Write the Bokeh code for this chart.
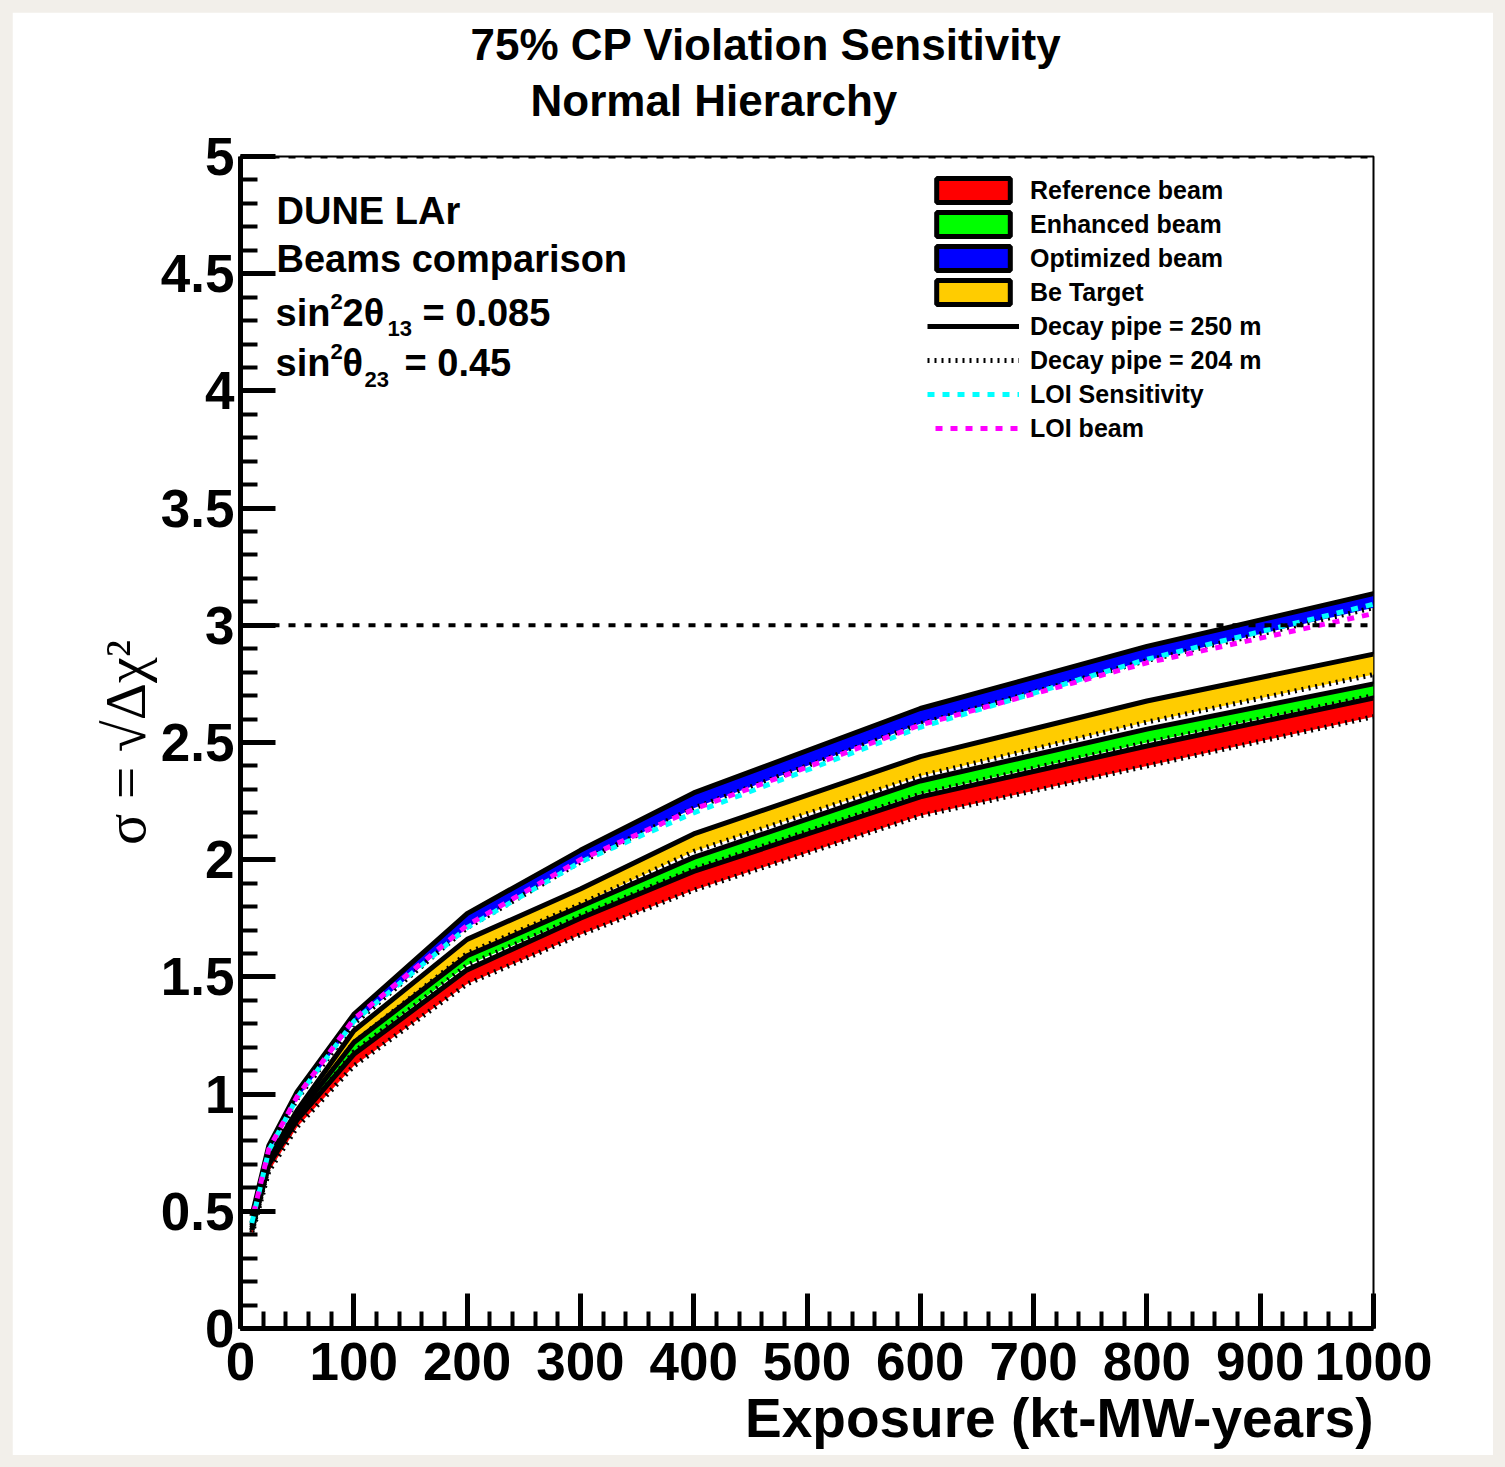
import numpy as np
from bokeh.plotting import figure
from bokeh.layouts import column
from bokeh.models import (Range1d, Label, Legend, LegendItem, ColumnDataSource,
                          CustomJSTickFormatter, FixedTicker, Span, Title)
from bokeh.embed import file_html
from bokeh.resources import INLINE

# ---------------- data ----------------
exposure = [10, 25, 50, 100, 200, 300, 400, 600, 800, 1000]

opt_250 = [0.48, 0.78, 1.01, 1.34, 1.77, 2.04, 2.285, 2.645, 2.91, 3.135]
opt_204 = [0.45, 0.75, 0.98, 1.30, 1.71, 1.99, 2.22, 2.58, 2.85, 3.075]
be_250 = [0.44, 0.73, 0.93, 1.27, 1.66, 1.875, 2.11, 2.44, 2.677, 2.877]
be_204 = [0.42, 0.70, 0.90, 1.22, 1.60, 1.81, 2.035, 2.357, 2.587, 2.79]
enh_250 = [0.43, 0.71, 0.91, 1.22, 1.59, 1.80, 2.01, 2.336, 2.557, 2.75]
enh_204 = [0.41, 0.69, 0.88, 1.18, 1.55, 1.76, 1.96, 2.28, 2.50, 2.70]
ref_250 = [0.42, 0.70, 0.89, 1.17, 1.53, 1.75, 1.95, 2.268, 2.485, 2.69]
ref_204 = [0.40, 0.67, 0.86, 1.12, 1.47, 1.68, 1.87, 2.187, 2.40, 2.61]
loi_sensitivity = [0.45, 0.76, 0.985, 1.31, 1.71, 1.99, 2.20, 2.565, 2.855, 3.09]
loi_beam = [0.46, 0.765, 0.99, 1.32, 1.72, 2.00, 2.215, 2.575, 2.84, 3.05]

beam_names = ["Reference beam", "Enhanced beam", "Optimized beam", "Be Target"]
beam_colors = ["#ff0000", "#00ff00", "#0000ff", "#ffcc00"]
threshold_levels = [3, 5]

x_ticks = [0, 100, 200, 300, 400, 500, 600, 700, 800, 900, 1000]
x_minor = list(range(0, 1001, 20))
y_ticks = [0, 0.5, 1, 1.5, 2, 2.5, 3, 3.5, 4, 4.5, 5]
y_minor = [round(0.1 * i, 1) for i in range(0, 51)]

# ---------------- layout helpers (page pixels) ----------------
W, H = 1505, 1467
M = 12                      # beige page margin
FL, FR, FT, FB = 240, 1373, 155, 1328
XMAX, YMAX = 1000.0, 5.0


def dx(px):
    return (px - FL) / (FR - FL) * XMAX


def dy(py):
    return (FB - py) / (FB - FT) * YMAX


FONT = "Liberation Sans"
PW, PH = W - 2 * M, H - 2 * M

p = figure(width=PW, height=PH, x_range=Range1d(0, 1000), y_range=Range1d(0, 5),
           output_backend="svg", toolbar_location=None,
           min_border_left=FL - M, min_border_right=PW - (FR - M),
           min_border_top=FT - M, min_border_bottom=PH - (FB - M))
p.grid.visible = False
p.background_fill_color = "white"
p.border_fill_color = "white"
p.outline_line_color = "black"
p.outline_line_width = 2

fmt = "return tick.toString();"
for ax in (p.xaxis[0], p.yaxis[0]):
    ax.axis_line_width = 5
    ax.major_tick_line_width = 5
    ax.minor_tick_line_width = 4
    ax.major_tick_in = 35
    ax.major_tick_out = 0
    ax.minor_tick_in = 17
    ax.minor_tick_out = 0
    ax.major_label_text_font = FONT
    ax.major_label_text_font_style = "bold"
    ax.major_label_text_font_size = "53px"
    ax.major_label_text_color = "black"
    ax.formatter = CustomJSTickFormatter(code=fmt)
p.xaxis[0].ticker = FixedTicker(ticks=x_ticks, minor_ticks=x_minor)
p.yaxis[0].ticker = FixedTicker(ticks=y_ticks, minor_ticks=y_minor)
p.xaxis[0].major_label_standoff = 14
p.yaxis[0].major_label_standoff = 6

# threshold lines (3 sigma, 5 sigma)
for lev in threshold_levels:
    p.add_layout(Span(location=lev, dimension="width", line_color="black",
                      line_width=4, line_dash="7 9"))

# ---------------- bands ----------------
band_data = {
    "Reference beam": (ref_204, ref_250),
    "Enhanced beam": (enh_204, enh_250),
    "Optimized beam": (opt_204, opt_250),
    "Be Target": (be_204, be_250),
}
color_of = dict(zip(beam_names, beam_colors))
draw_order = ["Optimized beam", "Be Target", "Enhanced beam", "Reference beam"]
solid_r = None
dotted_r = None
for name in draw_order:
    lo, hi = band_data[name]
    p.varea(x=exposure, y1=lo, y2=hi, fill_color=color_of[name], fill_alpha=1.0)
    r1 = p.line(exposure, hi, line_color="black", line_width=5)
    r2 = p.line(exposure, lo, line_color="black", line_width=5, line_dash="2 5")
    solid_r, dotted_r = r1, r2

r_loi_s = p.line(exposure, loi_sensitivity, line_color="#00ffff", line_width=5,
                 line_dash="7 8")
r_loi_b = p.line(exposure, loi_beam, line_color="#ff00ff", line_width=5,
                 line_dash="7 8", line_dash_offset=7)

# legend proxies for the filled bands (no visible data)
nan = float("nan")
proxies = {}
for name in beam_names:
    src = ColumnDataSource(dict(l=[nan], r=[nan], t=[nan], b=[nan]))
    proxies[name] = p.quad(left="l", right="r", top="t", bottom="b", source=src,
                           fill_color=color_of[name], line_color="black", line_width=5)

items = [LegendItem(label=n, renderers=[proxies[n]]) for n in beam_names]
items += [
    LegendItem(label="Decay pipe = 250 m", renderers=[solid_r]),
    LegendItem(label="Decay pipe = 204 m", renderers=[dotted_r]),
    LegendItem(label="LOI Sensitivity", renderers=[r_loi_s]),
    LegendItem(label="LOI beam", renderers=[r_loi_b]),
]
legend = Legend(items=items, location=(687, 885), padding=0, margin=0, spacing=4,
                glyph_width=92, glyph_height=30, label_standoff=11,
                label_text_font=FONT, label_text_font_style="bold",
                label_text_font_size="25px", label_text_color="black",
                background_fill_alpha=0.0, border_line_alpha=0.0)
p.add_layout(legend)


# ---------------- texts ----------------
def lab(px, py, text, size, bold=True, align="left", font=FONT):
    p.add_layout(Label(x=dx(px), y=dy(py), text=text, text_font=font,
                       text_font_size=f"{size}px",
                       text_font_style="bold" if bold else "normal",
                       text_align=align, text_baseline="alphabetic",
                       text_color="black"))


lab(276, 210, "DUNE LAr", 38)
lab(276, 258, "Beams comparison", 38)
lab(275, 312, "sin", 38)
lab(330, 300, "2", 22)
lab(342, 312, "2θ", 38)
lab(387, 327, "13", 22)
lab(422, 312, "= 0.085", 38)
lab(275, 362, "sin", 38)
lab(330, 350, "2", 22)
lab(342, 362, "θ", 38)
lab(364, 378, "23", 22)
lab(404, 362, "= 0.45", 38)

# titles (stacked above the frame; first added is closest to the frame)
spacer = Title(text=" ", text_font_size="1px", standoff=29)
t2 = Title(text="Normal Hierarchy", align="left", offset=530 - FL,
           text_font=FONT, text_font_style="bold", text_font_size="44px",
           text_color="black", standoff=0)
t1 = Title(text="75% CP Violation Sensitivity", align="left", offset=470 - FL,
           text_font=FONT, text_font_style="bold", text_font_size="44px",
           text_color="black", standoff=10)
p.add_layout(spacer, "above")
p.add_layout(t2, "above")
p.add_layout(t1, "above")

# x axis title
tx = Title(text="Exposure (kt-MW-years)", align="right", text_font=FONT,
           text_font_style="bold", text_font_size="55px", text_color="black",
           standoff=4)
p.add_layout(tx, "below")

# y axis title
ty = Title(text="σ = √Δχ²", align="center", text_font="Liberation Serif",
           text_font_style="normal", text_font_size="58px", text_color="black",
           standoff=0)
p.add_layout(ty, "left")

page = column(p, styles={"background-color": "#f2efea", "padding": f"{M}px"})

open("out.html", "w").write(file_html(page, INLINE))
